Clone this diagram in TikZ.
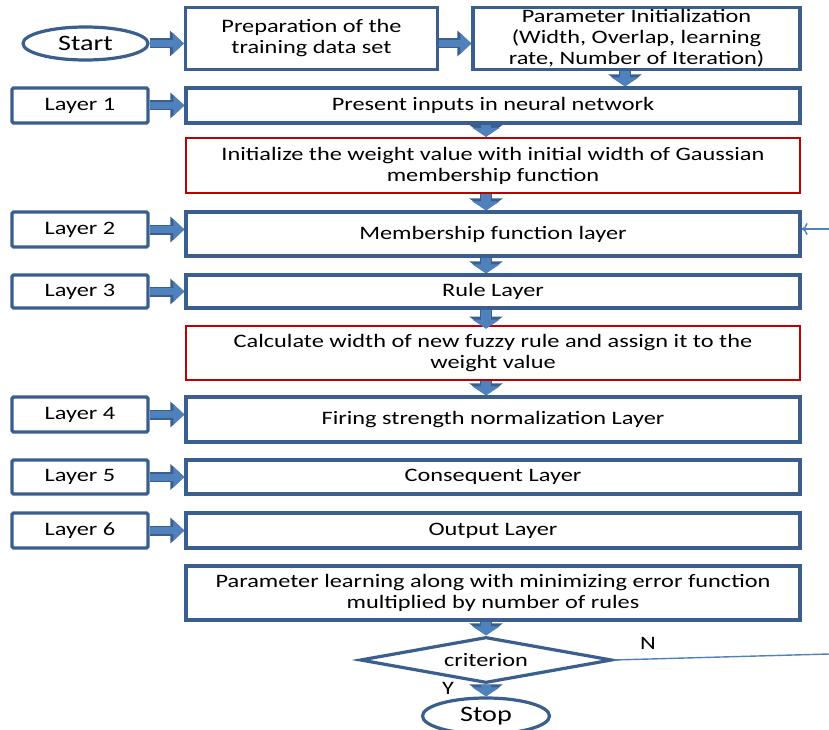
\documentclass[tikz,border=0pt]{standalone}
\usepackage{fontspec}
\setmainfont{Carlito}[FakeStretch=1.28]
\usepackage{xcolor}
\usetikzlibrary{positioning, calc, shapes.geometric, arrows.meta}

\definecolor{boxblue}{HTML}{3A5F8E}
\definecolor{arrowblue}{HTML}{4F81BD}
\definecolor{boxred}{HTML}{C00000}

\tikzset{
    box/.style={draw=boxblue, line width=3.2pt, fill=white, align=center,
        minimum width=614pt, inner sep=2pt, font=\fontsize{19}{21}\selectfont},
    redbox/.style={box, draw=boxred, line width=2.4pt},
    layerbox/.style={box, minimum width=136pt, minimum height=35pt, rounded corners=1.5pt},
    endbox/.style={box, ellipse, font=\fontsize{22}{24}\selectfont},
    fat/.style={draw=arrowblue, line width=7pt, -{Triangle[length=11pt,width=20pt]},
        preaction={draw=boxblue, line width=10pt, -{Triangle[length=14pt,width=25pt]}}},
    fatdown/.style={draw=arrowblue, line width=9.5pt, -{Triangle[length=9pt,width=27pt]},
        preaction={draw=boxblue, line width=12.5pt, -{Triangle[length=12pt,width=33pt]}}},
    backarrow/.style={draw=arrowblue, line width=1.4pt, -{To[length=6pt,width=12pt]}}
}

\begin{document}
\begin{tikzpicture}[x=1pt, y=-1pt]
        \useasboundingbox (0,0) rectangle (829,730);

        % top row
        \node[endbox, minimum width=125pt, minimum height=33pt] (start) at (85.5,43.5) {Start};
        \node[box, minimum width=252pt, minimum height=62pt] (prep) at (311.5,38.5)
            {Preparation of the\\training data set};
        \node[box, minimum width=327pt, minimum height=62pt] (param) at (636.5,38.5)
            {Parameter Initialization\\(Width, Overlap, learning\\rate, Number of Iteration)};

        % main column
        \node[box, minimum height=35pt] (present) at (493,105.5) {Present inputs in neural network};
        \node[redbox, minimum height=55pt] (init) at (493,165.5)
            {Initialize the weight value with initial width of Gaussian\\membership function};
        \node[box, minimum height=44pt] (member) at (493,234) {Membership function layer};
        \node[box, minimum height=33pt] (rule) at (493,291.5) {Rule Layer};
        \node[redbox, minimum height=54pt] (calc) at (493,353)
            {Calculate width of new fuzzy rule and assign it to the\\weight value};
        \node[box, minimum height=45pt] (firing) at (493,419.5) {Firing strength normalization Layer};
        \node[box, minimum height=34pt] (conseq) at (493,477) {Consequent Layer};
        \node[box, minimum height=35pt] (output) at (493,530.5) {Output Layer};
        \node[box, minimum height=54pt] (learn) at (493,593)
            {Parameter learning along with minimizing error function\\multiplied by number of rules};
        \node[box, diamond, aspect=5.5, inner sep=0pt, minimum width=252pt, minimum height=46pt]
            (crit) at (486,660) {criterion};
        \node[endbox, minimum width=127pt, minimum height=36pt] (stop) at (486,716) {Stop};

        % layer labels
        \node[layerbox] (lay1) at (80,105.5) {Layer 1};
        \node[layerbox] (lay2) at (80,229.5) {Layer 2};
        \node[layerbox, minimum height=33pt] (lay3) at (80,291.5) {Layer 3};
        \node[layerbox] (lay4) at (80,414.5) {Layer 4};
        \node[layerbox, minimum height=34pt] (lay5) at (80,477) {Layer 5};
        \node[layerbox] (lay6) at (80,530.5) {Layer 6};

        % block arrows
        \draw[fat] (start.east) -- (start.east -| prep.west);
        \draw[fat] (prep.east |- start) -- (param.west |- start);
        \draw[fatdown] (param.south -| 625,0) -- (present.north -| 625,0);
        \draw[fat] (lay1.east) -- (present.west);
        \draw[fat] (lay2.east) -- (lay2.east -| member.west);
        \draw[fat] (lay3.east) -- (rule.west);
        \draw[fat] (lay4.east) -- (lay4.east -| firing.west);
        \draw[fat] (lay5.east) -- (conseq.west);
        \draw[fat] (lay6.east) -- (output.west);
        \foreach \a/\b in {present/init, init/member, member/rule, calc/firing,
                learn/crit, crit/stop}
            \draw[fatdown] (\a.south -| crit) -- (\b.north -| crit);
        \draw[fatdown] (rule.south -| crit) -- ++(0,19);

        % loop back (runs off the picture)
        \coordinate (back) at (829,654);
        \coordinate (backin) at (829,229);
        \draw[arrowblue, line width=1.4pt] (crit.east) -- (back);
        \draw[backarrow] (backin) -- (member.east |- backin);
        \node[font=\fontsize{19}{21}\selectfont] (nlab) at (648,643) {N};
        \node[font=\fontsize{19}{21}\selectfont] (ylab) at (448,688) {Y};
    \end{tikzpicture}
\end{document}
